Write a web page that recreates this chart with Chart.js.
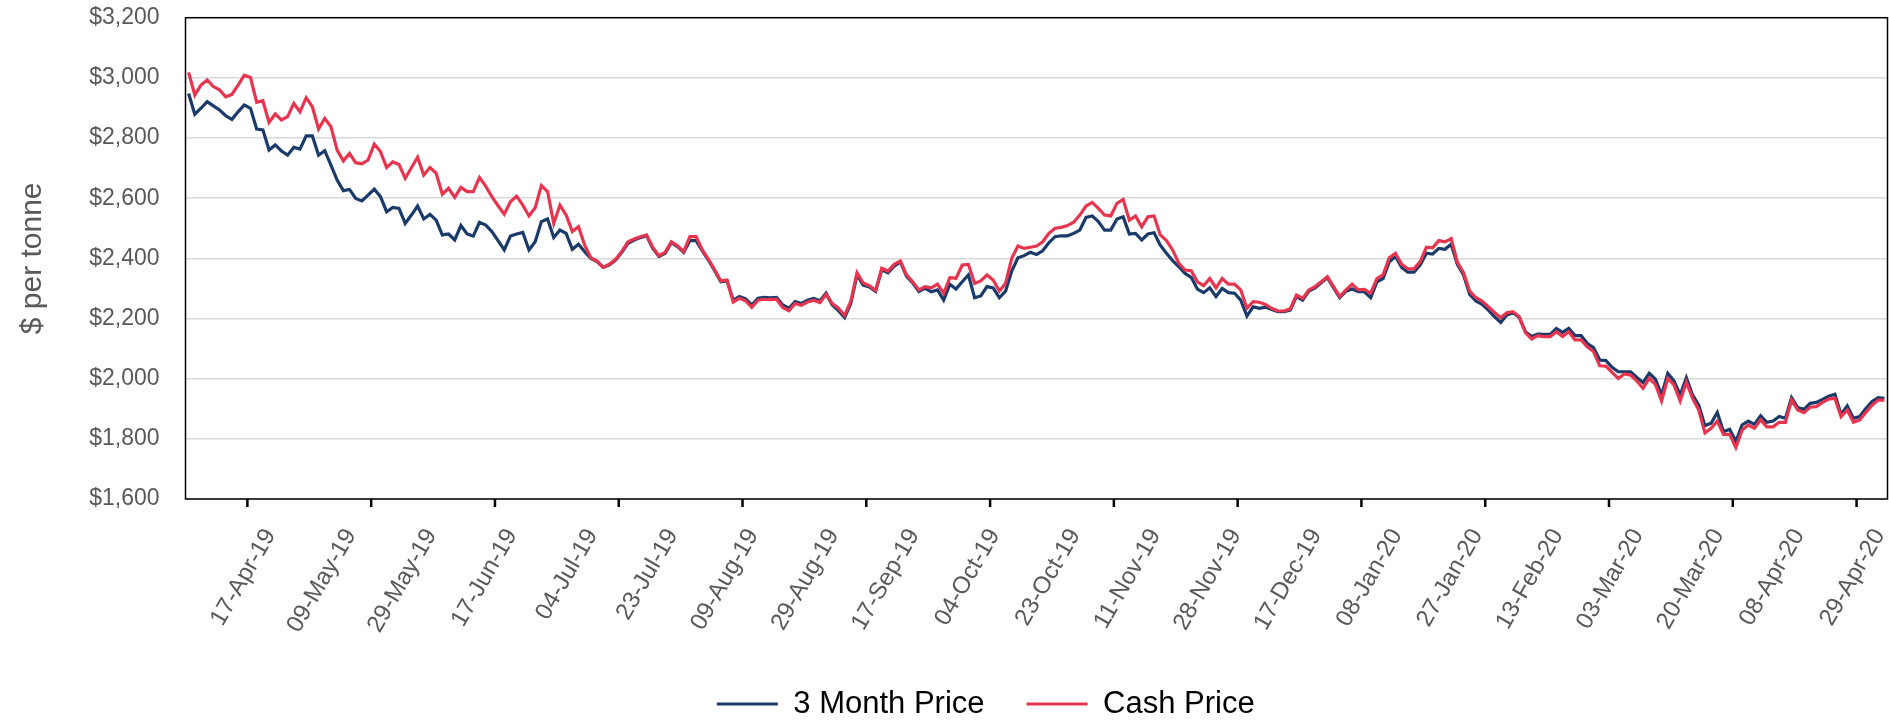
<!DOCTYPE html>
<html>
<head>
<meta charset="utf-8">
<script src="https://cdn.jsdelivr.net/npm/chart.js@4.4.0/dist/chart.umd.min.js"></script>
<style>
  html, body { margin: 0; padding: 0; background: #fff; }
</style>
</head>
<body>
<canvas id="priceChart" width="1889" height="720"></canvas>
<script>
// trading days on the axis (LME calendar)
const startDate = '2019-03-28';
const endDate = '2020-04-29';
const holidays = ['2019-04-19', '2019-04-22', '2019-05-06', '2019-05-27', '2019-08-26',
                  '2019-12-25', '2019-12-26', '2020-01-01', '2020-04-10', '2020-04-13'];

// dates that carry a label on the x axis
const tickDates = ['17-Apr-19', '09-May-19', '29-May-19', '17-Jun-19', '04-Jul-19', '23-Jul-19',
                   '09-Aug-19', '29-Aug-19', '17-Sep-19', '04-Oct-19', '23-Oct-19', '11-Nov-19',
                   '28-Nov-19', '17-Dec-19', '08-Jan-20', '27-Jan-20', '13-Feb-20', '03-Mar-20',
                   '20-Mar-20', '08-Apr-20', '29-Apr-20'];

const threeMonthPrice = [
  2948, 2879, 2899, 2921, 2907, 2893, 2874, 2862, 2887, 2910,
  2899, 2830, 2827, 2760, 2777, 2757, 2743, 2769, 2763, 2807,
  2807, 2743, 2758, 2710, 2660, 2625, 2629, 2599, 2591, 2610,
  2630, 2605, 2555, 2569, 2566, 2516, 2544, 2574, 2531, 2546,
  2527, 2478, 2481, 2461, 2509, 2481, 2474, 2520, 2511, 2489,
  2459, 2428, 2474, 2481, 2486,
  2428, 2455, 2522, 2531, 2469, 2494, 2483, 2430, 2447, 2422,
  2400, 2389, 2370, 2378, 2394, 2420, 2450, 2461, 2469, 2475,
  2433, 2406, 2417, 2452, 2439, 2420, 2459, 2459, 2425, 2394,
  2359, 2322, 2325, 2261, 2273, 2265, 2245, 2267, 2270, 2269,
  2270, 2245, 2234, 2256, 2250, 2261, 2267, 2259, 2284, 2245,
  2226, 2203, 2250, 2345, 2311,
  2305, 2290, 2362, 2352, 2374, 2388, 2340, 2318, 2290, 2300,
  2289, 2295, 2261, 2314, 2298, 2322, 2345, 2269, 2275, 2306,
  2302, 2269, 2291, 2358, 2402, 2409, 2420, 2413, 2425, 2452,
  2472, 2475, 2475, 2483, 2494, 2536, 2541, 2522, 2494, 2494,
  2531, 2538, 2481, 2483, 2461, 2481, 2485, 2444, 2417, 2392,
  2372, 2350, 2337, 2298, 2286,
  2302, 2273, 2300, 2286, 2284, 2261, 2208, 2239, 2234, 2238,
  2230, 2223, 2223, 2228, 2273, 2261, 2291, 2302, 2319, 2336,
  2302, 2269, 2291, 2298, 2289, 2289, 2269, 2322, 2333, 2389,
  2406, 2370, 2354, 2354, 2378, 2417, 2414, 2433, 2430, 2447,
  2380, 2345, 2280, 2258, 2247, 2228, 2206, 2187, 2212, 2219,
  2203, 2156, 2140, 2148, 2147,
  2147, 2167, 2154, 2167, 2143, 2143, 2117, 2103, 2062, 2060,
  2038, 2023, 2023, 2023, 2004, 1987, 2018, 1998, 1946, 2018,
  1993, 1946, 2003, 1946, 1912, 1844, 1852, 1888, 1824, 1832,
  1791, 1846, 1859, 1848, 1877, 1855, 1859, 1874, 1868, 1937,
  1904, 1898, 1918, 1921, 1931, 1942, 1948, 1881, 1910, 1868,
  1874, 1901, 1924, 1937, 1935
];

const cashPrice = [
  3018, 2943, 2976, 2993, 2971, 2960, 2937, 2945, 2976, 3009,
  3001, 2919, 2924, 2852, 2880, 2860, 2871, 2915, 2887, 2934,
  2904, 2830, 2865, 2838, 2760, 2724, 2749, 2718, 2714, 2727,
  2780, 2755, 2702, 2721, 2712, 2666, 2701, 2736, 2677, 2702,
  2683, 2613, 2633, 2603, 2636, 2622, 2622, 2669, 2640, 2605,
  2575, 2547, 2588, 2607, 2577,
  2541, 2568, 2642, 2622, 2516, 2577, 2544, 2489, 2505, 2444,
  2402, 2391, 2370, 2381, 2397, 2423, 2455, 2464, 2472, 2478,
  2436, 2409, 2420, 2455, 2442, 2423, 2472, 2472, 2428, 2397,
  2362, 2325, 2328, 2255, 2267, 2259, 2237, 2261, 2264, 2263,
  2264, 2237, 2226, 2250, 2244, 2255, 2261, 2253, 2280, 2250,
  2234, 2210, 2258, 2352, 2318,
  2309, 2293, 2367, 2358, 2380, 2391, 2345, 2322, 2295, 2306,
  2302, 2314, 2284, 2336, 2334, 2378, 2380, 2317, 2325, 2345,
  2328, 2291, 2317, 2400, 2441, 2433, 2437, 2441, 2455, 2483,
  2500, 2503, 2509, 2520, 2544, 2574, 2586, 2566, 2544, 2541,
  2583, 2596, 2527, 2541, 2505, 2538, 2541, 2478, 2459, 2428,
  2383, 2361, 2359, 2322, 2309,
  2333, 2302, 2333, 2314, 2314, 2295, 2234, 2256, 2254, 2247,
  2234, 2225, 2225, 2232, 2278, 2267, 2295, 2306, 2322, 2339,
  2306, 2273, 2295, 2314, 2295, 2297, 2284, 2333, 2345, 2402,
  2417, 2380, 2365, 2365, 2389, 2437, 2435, 2459, 2455, 2466,
  2387, 2352, 2291, 2269, 2258, 2239, 2220, 2203, 2219, 2223,
  2206, 2153, 2132, 2143, 2140,
  2140, 2156, 2140, 2156, 2129, 2129, 2106, 2090, 2043, 2042,
  2021, 2001, 2016, 2012, 1992, 1968, 2001, 1981, 1926, 2001,
  1979, 1926, 1988, 1935, 1896, 1820, 1835, 1859, 1815, 1815,
  1771, 1829, 1846, 1835, 1863, 1840, 1840, 1855, 1855, 1929,
  1896, 1887, 1905, 1907, 1921, 1932, 1935, 1874, 1896, 1855,
  1863, 1888, 1912, 1929, 1929
];

const yMin = 1600;
const yMax = 3200;
const yStep = 200;

const monthNames = ['Jan', 'Feb', 'Mar', 'Apr', 'May', 'Jun', 'Jul', 'Aug', 'Sep', 'Oct', 'Nov', 'Dec'];

function tradingDays() {
  const out = [];
  const d = new Date(startDate + 'T00:00:00Z');
  const end = new Date(endDate + 'T00:00:00Z');
  while (d <= end) {
    const iso = d.toISOString().slice(0, 10);
    const wd = d.getUTCDay();
    if (wd !== 0 && wd !== 6 && !holidays.includes(iso)) {
      out.push(String(d.getUTCDate()).padStart(2, '0') + '-' + monthNames[d.getUTCMonth()] + '-' +
               String(d.getUTCFullYear()).slice(2));
    }
    d.setUTCDate(d.getUTCDate() + 1);
  }
  return out;
}
const days = tradingDays();

Chart.defaults.font.family = '"Liberation Sans", Arial, sans-serif';

// plot frame, short tick marks under the axis, legend nudge
const frame = {
  id: 'frame',
  afterLayout(chart) {
    const lg = chart.legend;
    lg.left += 42; lg.right += 42;
    lg.top += 9.5; lg.bottom += 9.5;
  },
  beforeDatasetsDraw(chart) {
    const { ctx, chartArea: a, scales: { x } } = chart;
    ctx.save();
    ctx.strokeStyle = '#000';
    ctx.lineWidth = 1.5;
    ctx.strokeRect(a.left, a.top, a.right - a.left, a.bottom - a.top);
    ctx.lineWidth = 2.5;
    for (let b = 10; b < days.length; b += 20) {
      const px = (x.getPixelForValue(b - 1) + x.getPixelForValue(b)) / 2;
      ctx.beginPath();
      ctx.moveTo(px, a.bottom);
      ctx.lineTo(px, a.bottom + 8);
      ctx.stroke();
    }
    ctx.restore();
  }
};

const ctx = document.getElementById('priceChart').getContext('2d');
const priceChart = new Chart(ctx, {
  type: 'line',
  data: {
    labels: days,
    datasets: [{
      label: '3 Month Price',
      data: threeMonthPrice,
      borderColor: '#1A3A6A',
      backgroundColor: '#1A3A6A',
      borderWidth: 3.2,
      pointRadius: 0,
      tension: 0,
      order: 1
    }, {
      label: 'Cash Price',
      data: cashPrice,
      borderColor: '#E8354F',
      backgroundColor: '#E8354F',
      borderWidth: 3.2,
      pointRadius: 0,
      tension: 0,
      order: 0
    }]
  },
  options: {
    responsive: false,
    animation: false,
    layout: { padding: { top: 0, right: 1.5, bottom: 0, left: 0 } },
    plugins: {
      legend: {
        position: 'bottom',
        labels: {
          usePointStyle: true,
          pointStyle: 'line',
          pointStyleWidth: 61,
          padding: 42,
          color: '#000',
          font: { size: 31 },
          sort: (a, b) => a.datasetIndex - b.datasetIndex
        }
      },
      tooltip: { enabled: false }
    },
    scales: {
      x: {
        offset: true,
        grid: { display: false, drawTicks: false },
        border: { display: false },
        ticks: {
          autoSkip: false,
          minRotation: 60,
          maxRotation: 60,
          padding: 25,
          labelOffset: -5,
          color: '#595959',
          font: { size: 24 },
          callback: (v, i) => tickDates.includes(days[i]) ? days[i] : ''
        },
        afterFit: s => { s.height = 138; s.paddingLeft = 0; s.paddingRight = 0; }
      },
      y: {
        min: yMin,
        max: yMax,
        grid: { color: '#d9d9d9', lineWidth: 1.5, drawTicks: false },
        border: { display: false },
        ticks: {
          stepSize: yStep,
          padding: 26,
          color: '#595959',
          font: { size: 23 },
          callback: v => '$' + v.toLocaleString('en-US')
        },
        title: {
          display: true,
          text: '$ per tonne',
          color: '#595959',
          font: { size: 30 },
          padding: { top: 14.5, bottom: 0 }
        },
        afterFit: s => { s.width = 185.5; s.paddingTop = 17.7; s.paddingBottom = 0; }
      }
    }
  },
  plugins: [frame]
});
</script>
</body>
</html>
